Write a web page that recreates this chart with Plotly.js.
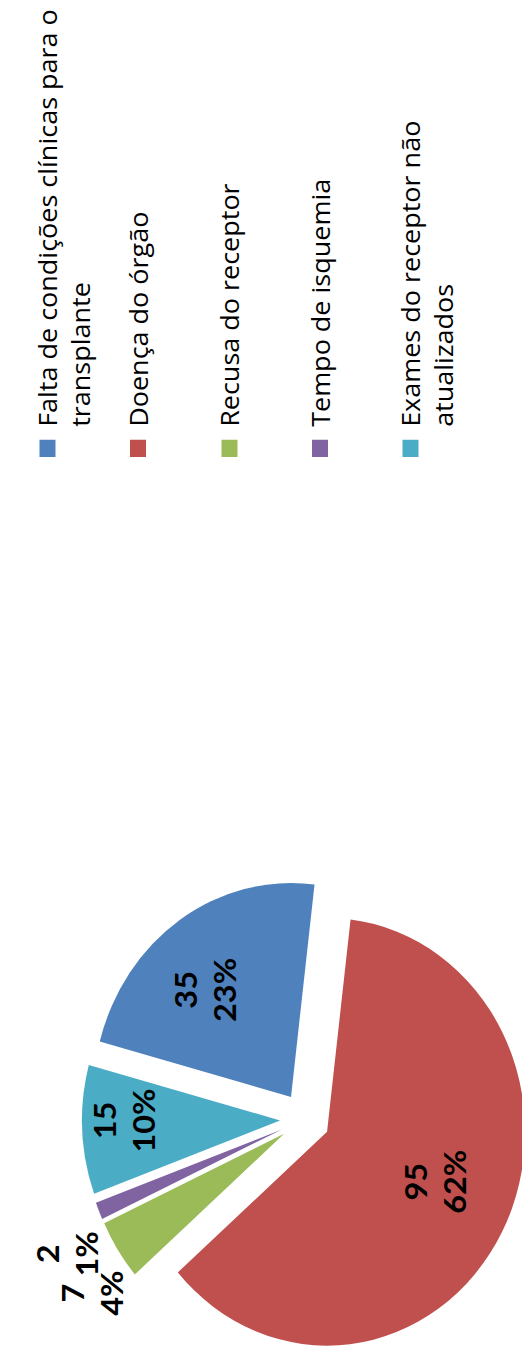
<!DOCTYPE html>
<html><head><meta charset="utf-8">
<script src="https://cdn.plot.ly/plotly-3.0.1.min.js"></script>
<style>
html,body{margin:0;padding:0;width:522px;height:1356px;overflow:hidden;background:#fff;}
#chart{position:absolute;left:0;top:0;width:1259px;height:560px;transform-origin:0 0;transform:rotate(-90deg) translate(-1360px,0) scale(1.08,1);}
</style></head><body><div id="chart"></div>
<script>
const categories = ['Falta de condições clínicas para o<br>transplante','Doença do órgão','Recusa do receptor','Tempo de isquemia','Exames do receptor não<br>atualizados'];
const values = [35, 95, 7, 2, 15];
const percentLabels = ['23%', '62%', '4%', '1%', '10%'];
const colors = ['#4F81BD', '#C0504D', '#9BBB59', '#8064A2', '#4BACC6'];
// label placement per slice (main trace / separate trace for the purple slice label)
const mainPositions = ['inside', 'inside', 'outside', 'none', 'inside'];
const extraPositions = ['none', 'none', 'none', 'outside', 'none'];
const templates = ['%{value}<br>%{text}<br>&nbsp;', '&nbsp;<br>%{value}<br>%{text}', '%{value}<br>%{text}', '%{value}<br>%{text}', '%{value}<br>%{text}'];

const common = {
  type: 'pie',
  labels: categories,
  values: values,
  text: percentLabels,
  texttemplate: templates,
  insidetextorientation: 'horizontal',
  textfont: {family: 'Lato', size: 30, weight: 'bold', color: '#000'},
  sort: false,
  direction: 'clockwise',
  rotation: 15,
  pull: 0.126,
  domain: {x: [0, 0.3542], y: [0.0571, 0.8536]},
  showlegend: false,
  hoverinfo: 'none'
};

const pie = Object.assign({}, common, {
  textposition: mainPositions,
  marker: {colors: colors, line: {width: 0}}
});
const pieLabels = Object.assign({}, common, {
  textposition: extraPositions,
  marker: {colors: categories.map(() => 'rgba(0,0,0,0)'), line: {width: 0}}
});

const legendIds = ['legend', 'legend2', 'legend3', 'legend4', 'legend5'];
const legendTops = [0.9558, 0.7942, 0.6308, 0.4692, 0.3076];

const keys = categories.map((c, i) => ({
  type: 'scatter', mode: 'markers', x: [null], y: [null],
  name: c, legend: legendIds[i], showlegend: true, hoverinfo: 'skip',
  marker: {symbol: 'square', size: 16, color: colors[i], line: {width: 0}}
}));

const layout = {
  width: 1259, height: 560,
  margin: {l: 0, r: 0, t: 0, b: 0, autoexpand: false},
  paper_bgcolor: '#fff', plot_bgcolor: 'rgba(0,0,0,0)',
  xaxis: {visible: false}, yaxis: {visible: false},
  showlegend: true
};
legendIds.forEach((id, i) => {
  layout[id] = {
    x: 0.6545, xanchor: 'left', y: legendTops[i], yanchor: 'top',
    bgcolor: 'rgba(0,0,0,0)', borderwidth: 0, valign: 'top',
    font: {family: 'Open Sans', size: 25, color: '#000'}
  };
});

Plotly.newPlot('chart', [pie, pieLabels].concat(keys), layout, {staticPlot: true, displayModeBar: false});
</script></body></html>
